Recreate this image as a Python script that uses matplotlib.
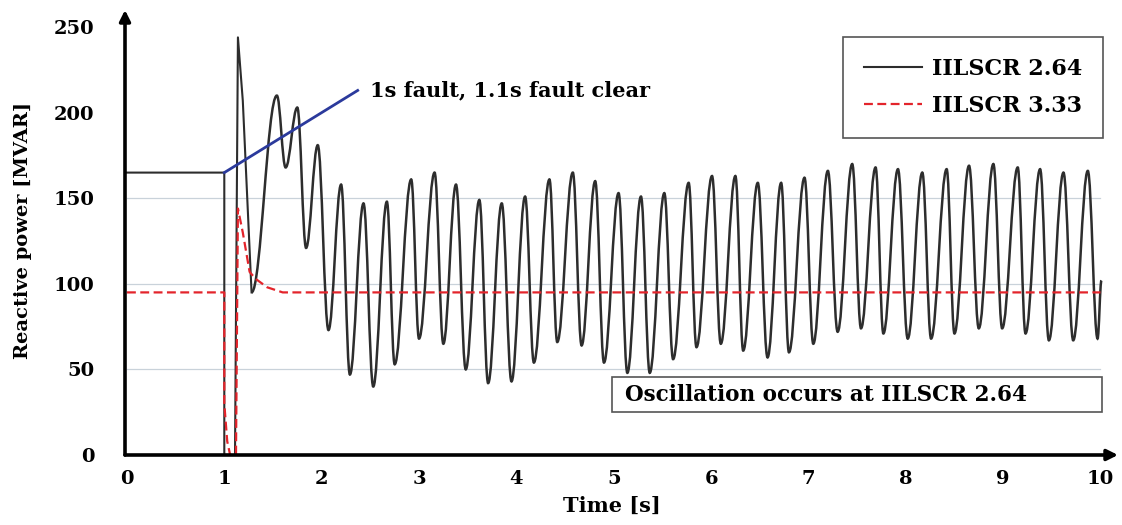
import matplotlib
matplotlib.use("Agg")
import matplotlib.pyplot as plt
from matplotlib.path import Path
from matplotlib.patches import PathPatch, Rectangle

# IILSCR 2.64 - pre-fault level, fault dip and first spike (straight segments)
t_black_fault = [0.0, 1.0, 1.0, 1.11, 1.14, 1.19, 1.28]
q_black_fault = [165, 165, 0, 0, 244, 207, 95]

# IILSCR 2.64 - oscillation peaks / troughs after fault clearing
t_black_osc = [1.28, 1.54, 1.63, 1.75, 1.84, 1.96, 2.07, 2.2, 2.29, 2.43, 2.53,
               2.67, 2.75, 2.92, 3.0, 3.16, 3.25, 3.38, 3.48, 3.62, 3.71, 3.85,
               3.95, 4.09, 4.18, 4.34, 4.42, 4.58, 4.67, 4.81, 4.9, 5.05, 5.14,
               5.28, 5.37, 5.52, 5.61, 5.77, 5.85, 6.01, 6.1, 6.25, 6.33, 6.48,
               6.58, 6.72, 6.8, 6.96, 7.05, 7.2, 7.3, 7.45, 7.54, 7.69, 7.77,
               7.92, 8.02, 8.17, 8.26, 8.42, 8.5, 8.65, 8.75, 8.9, 8.99, 9.15,
               9.23, 9.38, 9.47, 9.62, 9.72, 9.87, 9.97, 10.01]
q_black_osc = [95, 210, 168, 203, 121, 181, 73, 158, 47, 147, 40,
               148, 53, 161, 68, 165, 65, 158, 50, 149, 42, 147,
               43, 151, 54, 161, 66, 165, 64, 160, 54, 153, 48,
               151, 48, 153, 56, 159, 63, 163, 65, 163, 61, 159,
               57, 159, 60, 162, 65, 166, 72, 170, 74, 168, 71,
               167, 68, 165, 68, 167, 71, 169, 74, 170, 74, 168,
               71, 167, 67, 165, 67, 166, 68, 102]

# IILSCR 3.33
t_red = [0.0, 1.0, 1.0, 1.03, 1.06, 1.12, 1.14, 1.19, 1.26, 1.32, 1.44, 1.6, 10.0]
q_red = [95, 95, 30, 8, 0, 0, 144, 130, 107, 103, 98, 95, 95]

x_ticks = list(range(0, 11))
y_ticks = [0, 50, 100, 150, 200, 250]
grid_levels = [50, 100, 150]

serif = ["DejaVu Serif"]

fig = plt.figure(figsize=(11.22, 5.25), dpi=100)
ax = fig.add_axes([125 / 1122, 70 / 525, 993 / 1122, 445 / 525])
ax.set_xlim(-0.02, 10.18)
ax.set_ylim(0, 260)

for g in grid_levels:
    ax.plot([0, 10], [g, g], color="#c9d2da", lw=0.9, zorder=1)

# black curve: straight fault part + smooth oscillation through extrema
ax.plot(t_black_fault, q_black_fault, color="#2d2d2d", lw=1.5, zorder=3,
        label="IILSCR 2.64")
verts = [(t_black_osc[0], q_black_osc[0])]
codes = [Path.MOVETO]
k = 0.38
for i in range(len(t_black_osc) - 1):
    t0, t1 = t_black_osc[i], t_black_osc[i + 1]
    v0, v1 = q_black_osc[i], q_black_osc[i + 1]
    dt = t1 - t0
    verts += [(t0 + k * dt, v0), (t1 - k * dt, v1), (t1, v1)]
    codes += [Path.CURVE4] * 3
ax.add_patch(PathPatch(Path(verts, codes), fill=False, ec="#2d2d2d", lw=1.8, zorder=3))

ax.plot(t_red, q_red, color="#e3242b", lw=1.6, ls=(0, (4, 2)), zorder=4,
        label="IILSCR 3.33")

# annotation line
ax.plot([1.0, 2.37], [165, 213], color="#2b3a9c", lw=2.0, zorder=5)
ax.text(2.5, 213, "1s fault, 1.1s fault clear", fontsize=15, fontweight="bold",
        family=serif, va="center", ha="left")

# oscillation note box
ax.add_patch(Rectangle((4.98, 25), 5.04, 20.6, fc="white", ec="#555555", lw=1.2, zorder=6))
ax.text(5.12, 35.3, "Oscillation occurs at IILSCR 2.64", fontsize=15.5,
        fontweight="bold", family=serif, va="center", ha="left", zorder=7)

leg = ax.legend(loc="upper right", bbox_to_anchor=(0.985, 0.939), borderaxespad=0,
                fancybox=False, edgecolor="#555555", framealpha=1,
                prop={"family": serif, "weight": "bold", "size": 16},
                handlelength=2.6, handletextpad=0.45, borderpad=0.95, labelspacing=0.65)
leg.get_frame().set_linewidth(1.2)

# axes with arrows
for s in ax.spines.values():
    s.set_visible(False)
ax.annotate("", xy=(0, 1), xycoords="axes fraction", xytext=(0, 0),
            arrowprops=dict(arrowstyle="-|>", lw=2.6, color="black", mutation_scale=16,
                            shrinkA=0, shrinkB=0), zorder=8)
ax.annotate("", xy=(1, 0), xycoords="axes fraction", xytext=(0, 0),
            arrowprops=dict(arrowstyle="-|>", lw=2.6, color="black", mutation_scale=16,
                            shrinkA=0, shrinkB=0), zorder=8)

ax.set_xticks(x_ticks)
ax.set_yticks(y_ticks)
ax.tick_params(length=0)
ax.tick_params(axis="x", pad=11)
ax.tick_params(axis="y", pad=22)
for lab in ax.get_xticklabels() + ax.get_yticklabels():
    lab.set_family(serif)
    lab.set_fontweight("bold")
    lab.set_fontsize(14)

ax.set_xlabel("Time [s]", fontsize=15, fontweight="bold", family=serif)
ax.set_ylabel("Reactive power [MVAR]", fontsize=14, fontweight="bold", family=serif)
ax.xaxis.set_label_coords(0.49, -0.115)
ax.xaxis.label.set_va("center")
ax.yaxis.set_label_coords(-0.103, 0.505)
ax.yaxis.label.set_va("center")

fig.savefig("out.png", dpi=100)
